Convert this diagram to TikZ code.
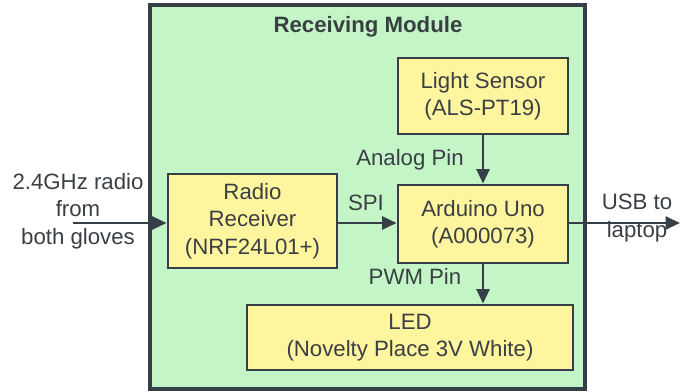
\documentclass[tikz,border=0pt]{standalone}
\usepackage{fontspec}
\setmainfont{Liberation Sans}
\usepackage{tikz}
\usetikzlibrary{arrows.meta,positioning,calc}
\definecolor{cEdge}{HTML}{363F47}
\definecolor{cText}{HTML}{3A3F44}
\definecolor{cModule}{HTML}{C3F5C7}
\definecolor{cPart}{HTML}{FFF59F}
\tikzset{
  module/.style={rectangle, draw=cEdge, fill=cModule, line width=2.2pt, inner sep=0pt},
  part/.style={rectangle, draw=cEdge, fill=cPart, line width=2pt, align=center, inner sep=0pt, text=cText},
  lbl/.style={align=center, text=cText, inner sep=1pt},
  sig/.style={-{Triangle[length=3.6mm, width=3.2mm]}, line width=2pt, cEdge},
}

\begin{document}
\begin{tikzpicture}[font=\fontsize{15.8}{19.4}\selectfont]
  \useasboundingbox (0,0) rectangle (17.125,-9.775);
  \node[module, minimum width=10.875cm, minimum height=9.6cm] (module) at (9.1875,-4.925) {};
  \node[lbl, font=\fontsize{15.8}{19.4}\selectfont\bfseries] (title) at (9.2,-0.675) {Receiving Module};
  \node[part, minimum width=4.25cm, minimum height=1.9cm] (sensor) at (12.075,-2.4) {Light Sensor\\(ALS-PT19)};
  \node[part, minimum width=4.25cm, minimum height=1.95cm] (uno) at (12.075,-5.6) {Arduino Uno\\(A000073)};
  \node[part, minimum width=4.225cm, minimum height=2.35cm] (radio) at (6.3125,-5.525) {Radio\\Receiver\\(NRF24L01+)};
  \node[part, minimum width=8.15cm, minimum height=1.625cm] (led) at (10.25,-8.4375) {LED\\(Novelty Place 3V White)};
  \coordinate (src) at (1.825,-5.575);
  \coordinate (usb) at (17.0,-5.575);
  % signals
  \draw[sig] (src) -- (radio.west |- src);
  \draw[sig] (radio.east |- src) -- (uno.west |- src);
  \draw[sig] (uno.east |- src) -- (usb);
  \draw[sig] (sensor.south) -- (uno.north);
  \draw[sig] (uno.south) -- (led.north -| uno.south);
  % labels
  \node[lbl] (inlbl) at (1.95,-5.275) {2.4GHz radio\\from\\both gloves};
  \node[lbl] (usblbl) at (15.925,-5.45) {USB to\\laptop};
  \node[lbl] (analog) at (10.25,-4.0) {Analog Pin};
  \node[lbl] (spi) at (9.15,-5.075) {SPI};
  \node[lbl] (pwm) at (10.375,-6.9) {PWM Pin};
\end{tikzpicture}
\end{document}
